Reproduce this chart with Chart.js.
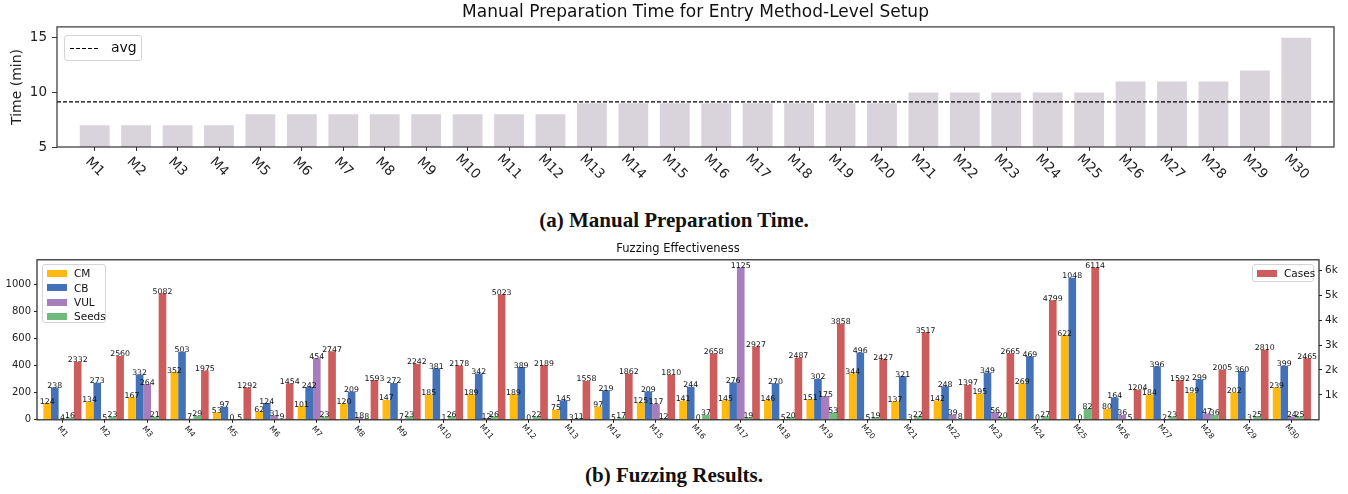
<!DOCTYPE html>
<html>
<head>
<meta charset="utf-8">
<script src="https://cdn.jsdelivr.net/npm/chart.js@4.4.1/dist/chart.umd.min.js"></script>
<style>
  body { margin: 0; background: #fff; font-family: "DejaVu Sans", sans-serif; }
  #wrap { position: relative; width: 1348px; height: 494px; overflow: hidden; background: #fff; }
  canvas { position: absolute; left: 0; }
  .cap { position: absolute; left: 0; width: 1348px; text-align: center; font-family: "Liberation Serif", "DejaVu Serif", serif; font-weight: bold; font-size: 21px; color: #111; }
  .lg { position: absolute; box-sizing: border-box; border: 1px solid #d4d4d4; border-radius: 3px; background: rgba(255,255,255,0.85); color: #111; }
  .row { position: absolute; left: 0; height: 14px; display: flex; align-items: center; font-size: 10.5px; }
  .sw { display: inline-block; width: 20px; height: 7px; margin: 0 7px 0 4px; }
</style>
</head>
<body>
<div id="wrap">
  <canvas id="prepChart" width="1348" height="200" style="top:0"></canvas>
  <div class="cap" style="top:208px">(a) Manual Preparation Time.</div>
  <canvas id="fuzzChart" width="1348" height="205" style="top:238px"></canvas>
  <div class="cap" style="top:463px">(b) Fuzzing Results.</div>

  <div class="lg" style="left:64px;top:35px;width:78px;height:26px;">
    <svg style="position:absolute;left:5px;top:11px" width="30" height="3"><line x1="0" y1="1.5" x2="30" y2="1.5" stroke="#000" stroke-width="1.1" stroke-dasharray="4,2"/></svg>
    <span style="position:absolute;left:46px;top:3px;font-size:14px;">avg</span>
  </div>

  <div class="lg" style="left:42px;top:264px;width:64px;height:59px;">
    <div class="row" style="top:1px"><span class="sw" style="background:#ffb90f"></span>CM</div>
    <div class="row" style="top:15.5px"><span class="sw" style="background:#4472b8"></span>CB</div>
    <div class="row" style="top:30px"><span class="sw" style="background:#a87dbb"></span>VUL</div>
    <div class="row" style="top:44px"><span class="sw" style="background:#6fbb7d"></span>Seeds</div>
  </div>
  <div class="lg" style="left:1252px;top:264px;width:62px;height:18px;">
    <div class="row" style="top:1px"><span class="sw" style="background:#cd5c5c"></span>Cases</div>
  </div>
</div>
<script>
const methods = ['M1','M2','M3','M4','M5','M6','M7','M8','M9','M10',
                 'M11','M12','M13','M14','M15','M16','M17','M18','M19','M20',
                 'M21','M22','M23','M24','M25','M26','M27','M28','M29','M30'];

// (a) manual preparation time, minutes
const prepTime = [7,7,7,7,8,8,8,8,8,8,8,8,9,9,9,9,9,9,9,9,10,10,10,10,10,11,11,11,12,15];
const timeTicks = [5,10,15];

// (b) fuzzing results
const cm    = [124,134,167,352,53,62,101,120,147,185,189,189,75,97,125,141,145,146,151,344,137,142,195,269,622,80,184,199,202,239];
const cb    = [238,273,332,503,97,124,242,209,272,381,342,389,145,219,209,244,276,270,302,496,321,248,349,469,1048,164,396,299,360,399];
const vul   = [4,5,264,7,0,31,454,18,7,1,12,0,3,5,117,0,1125,5,175,5,3,39,56,0,0,36,2,47,3,24];
const seeds = [16,23,21,29,5,9,23,8,23,26,26,22,11,17,12,37,19,20,53,19,22,8,20,27,82,5,23,36,25,25];
const cases = [2332,2560,5082,1975,1292,1454,2747,1593,2242,2178,5023,2189,1558,1862,1810,2658,2927,2487,3858,2427,3517,1397,2665,4799,6114,1204,1592,2005,2810,2465];
const countTicks = [0,200,400,600,800,1000];
const caseTicks = [1000,2000,3000,4000,5000,6000];

const avgTime = prepTime.reduce((a, b) => a + b, 0) / prepTime.length;

Chart.defaults.font.family = '"DejaVu Sans", sans-serif';
Chart.defaults.color = '#222';

function drawXLabels(ctx, scale, area, offset, angle, size) {
    ctx.save();
    ctx.fillStyle = '#222';
    ctx.font = size + 'px "DejaVu Sans"';
    ctx.textAlign = 'center';
    ctx.textBaseline = 'middle';
    methods.forEach((m, i) => {
        const px = scale.getPixelForValue(i);
        ctx.save();
        ctx.translate(px, area.bottom + offset);
        ctx.rotate(angle * Math.PI / 180);
        ctx.fillText(m, 0, 0);
        ctx.restore();
    });
    ctx.restore();
}

const prepDeco = {
    id: 'prepDeco',
    afterDatasetsDraw(chart) {
        const { ctx, chartArea: a, scales: { x, y } } = chart;
        const avgY = y.getPixelForValue(avgTime);
        ctx.save();
        ctx.strokeStyle = '#000';
        ctx.lineWidth = 1.1;
        ctx.setLineDash([4, 2]);
        ctx.beginPath();
        ctx.moveTo(a.left, avgY);
        ctx.lineTo(a.right, avgY);
        ctx.stroke();
        ctx.setLineDash([]);
        ctx.strokeStyle = '#333';
        ctx.lineWidth = 1.2;
        ctx.strokeRect(a.left, a.top, a.right - a.left, a.bottom - a.top);
        ctx.restore();
        drawXLabels(ctx, x, a, 20, 45, 13.5);
    }
};

const fuzzDeco = {
    id: 'fuzzDeco',
    afterDatasetsDraw(chart) {
        const { ctx, chartArea: a, scales: { x } } = chart;
        ctx.save();
        ctx.fillStyle = '#111';
        ctx.font = '7.8px "DejaVu Sans"';
        ctx.textAlign = 'center';
        ctx.textBaseline = 'alphabetic';
        chart.data.datasets.forEach((ds, di) => {
            const meta = chart.getDatasetMeta(di);
            meta.data.forEach((el, i) => {
                ctx.fillText(String(ds.data[i].y), el.x, el.y + 0.5);
            });
        });
        ctx.strokeStyle = '#222';
        ctx.lineWidth = 1.2;
        ctx.strokeRect(a.left, a.top, a.right - a.left, a.bottom - a.top);
        ctx.restore();
        drawXLabels(ctx, x, a, 12, 50, 7.8);
    }
};

const toPoints = arr => arr.map((v, i) => ({ x: i, y: v }));
const methodTicks = s => { s.ticks = methods.map((m, i) => ({ value: i })); };

new Chart(document.getElementById('prepChart'), {
    type: 'bar',
    data: {
        datasets: [{
            label: 'Time',
            data: toPoints(prepTime),
            backgroundColor: '#d9d4db',
            categoryPercentage: 0.72,
            barPercentage: 1
        }]
    },
    options: {
        responsive: false,
        animation: false,
        layout: { padding: { left: 0, right: 14, top: 0, bottom: 0 } },
        plugins: {
            legend: { display: false },
            tooltip: { enabled: false },
            title: {
                display: true,
                fullSize: false,
                text: 'Manual Preparation Time for Entry Method-Level Setup',
                color: '#111',
                font: { size: 17, weight: 'normal' },
                padding: { top: 2, bottom: 4.5 }
            }
        },
        scales: {
            x: {
                type: 'linear',
                min: -0.91,
                max: 29.91,
                offset: false,
                afterBuildTicks: methodTicks,
                ticks: { display: false },
                grid: { drawOnChartArea: false, drawTicks: true, tickLength: 4, color: '#333', offset: false },
                border: { display: false },
                afterFit: s => { s.height = 53; }
            },
            y: {
                min: 5,
                max: 16,
                afterBuildTicks: s => { s.ticks = timeTicks.map(v => ({ value: v })); },
                ticks: { color: '#222', font: { size: 13.5 }, padding: 5 },
                grid: { drawOnChartArea: false, tickLength: 5, color: '#333' },
                border: { display: false },
                title: { display: true, text: 'Time (min)', color: '#222', font: { size: 14 }, padding: { top: 9, bottom: 0 } },
                afterFit: s => { s.width = 57; }
            }
        }
    },
    plugins: [prepDeco]
});

new Chart(document.getElementById('fuzzChart'), {
    type: 'bar',
    data: {
        datasets: [
            { label: 'CM', data: toPoints(cm), backgroundColor: '#ffb90f', yAxisID: 'y' },
            { label: 'CB', data: toPoints(cb), backgroundColor: '#4472b8', yAxisID: 'y' },
            { label: 'VUL', data: toPoints(vul), backgroundColor: '#a87dbb', yAxisID: 'y' },
            { label: 'Seeds', data: toPoints(seeds), backgroundColor: '#6fbb7d', yAxisID: 'y' },
            { label: 'Cases', data: toPoints(cases), backgroundColor: '#cd5c5c', yAxisID: 'y1' }
        ]
    },
    options: {
        responsive: false,
        animation: false,
        datasets: { bar: { categoryPercentage: 0.9, barPercentage: 1 } },
        layout: { padding: 0 },
        plugins: {
            legend: { display: false },
            tooltip: { enabled: false },
            title: {
                display: true,
                fullSize: false,
                text: 'Fuzzing Effectiveness',
                color: '#111',
                font: { size: 11.5, weight: 'normal' },
                padding: { top: 4, bottom: 4 }
            }
        },
        scales: {
            x: {
                type: 'linear',
                min: -0.6,
                max: 29.64,
                offset: false,
                afterBuildTicks: methodTicks,
                ticks: { display: false },
                grid: { drawOnChartArea: false, drawTicks: true, tickLength: 3, color: '#222', offset: false },
                border: { display: false },
                afterFit: s => { s.height = 23.2; }
            },
            y: {
                position: 'left',
                min: 0,
                max: 1181,
                afterBuildTicks: s => { s.ticks = countTicks.map(v => ({ value: v })); },
                ticks: { color: '#222', font: { size: 10 }, padding: 3, callback: v => String(v) },
                grid: { drawOnChartArea: false, tickLength: 3, color: '#222' },
                border: { display: false },
                afterFit: s => { s.width = 37; }
            },
            y1: {
                position: 'right',
                min: 0,
                max: 6420,
                afterBuildTicks: s => { s.ticks = caseTicks.map(v => ({ value: v })); },
                ticks: { color: '#222', font: { size: 10.5 }, padding: 3, callback: v => (v / 1000) + 'k' },
                grid: { drawOnChartArea: false, tickLength: 3, color: '#222' },
                border: { display: false },
                afterFit: s => { s.width = 29; }
            }
        }
    },
    plugins: [fuzzDeco]
});
</script>
</body>
</html>
